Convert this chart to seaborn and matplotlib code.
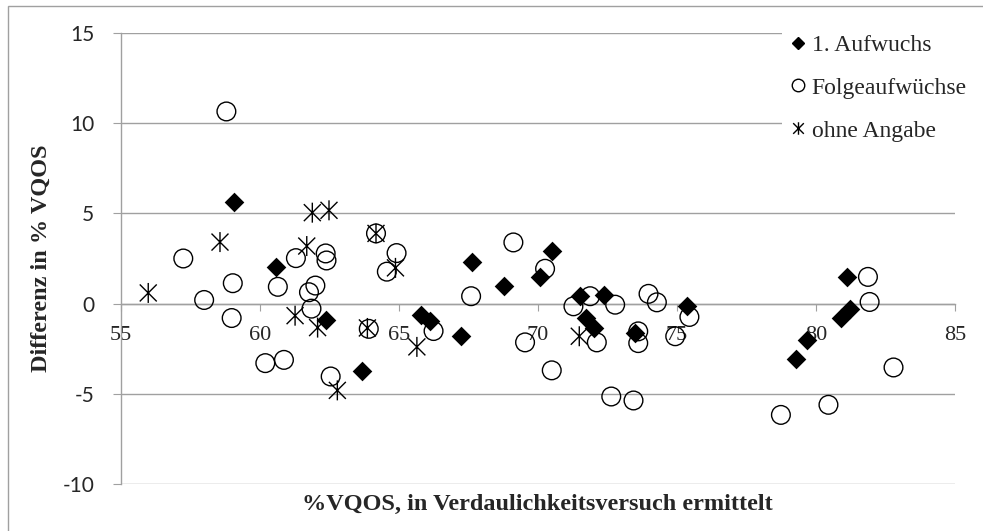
import matplotlib
matplotlib.use("Agg")
import matplotlib.pyplot as plt
from matplotlib.path import Path
from matplotlib.lines import Line2D
from matplotlib.patches import Rectangle
import seaborn as sns


# data

aufwuchs_x = [59.08, 60.6, 62.37, 63.68, 65.79, 66.13, 67.24, 67.63, 68.79, 70.06, 70.5,
              71.53, 71.74, 72.03, 72.38, 73.51, 75.38, 79.29, 79.68, 80.91, 81.23, 81.11]
aufwuchs_y = [5.63, 2.04, -0.93, -3.74, -0.61, -0.98, -1.81, 2.3, 0.96, 1.48, 2.89,
              0.41, -0.78, -1.33, 0.5, -1.63, -0.11, -3.09, -2.04, -0.78, -0.28, 1.5]

folge_x = [57.25, 58.0, 58.8, 59.03, 58.99, 60.2, 60.65, 60.87, 61.3, 61.77, 61.86,
           62.0, 62.37, 62.4, 62.55, 63.92, 64.18, 64.57, 64.92, 66.25, 67.6, 69.12,
           69.54, 70.26, 70.5, 71.28, 71.88, 72.12, 72.64, 72.78, 73.44, 73.61, 73.61,
           73.98, 74.28, 74.94, 75.45, 78.74, 80.45, 81.87, 81.93, 82.79]
folge_y = [2.5, 0.2, 10.65, 1.13, -0.8, -3.3, 0.93, -3.12, 2.52, 0.63, -0.28,
           1.0, 2.78, 2.39, -4.04, -1.4, 3.89, 1.77, 2.8, -1.52, 0.41, 3.39,
           -2.15, 1.93, -3.7, -0.15, 0.41, -2.15, -5.15, -0.06, -5.37, -1.54, -2.19,
           0.54, 0.07, -1.81, -0.74, -6.17, -5.61, 1.48, 0.09, -3.54]

ohne_x = [55.99, 58.57, 61.27, 61.69, 61.89, 62.08, 62.49, 62.79, 63.87, 64.18, 64.88,
          65.65, 71.49]
ohne_y = [0.59, 3.41, -0.67, 3.19, 5.04, -1.33, 5.17, -4.81, -1.35, 3.89, 1.98,
          -2.4, -1.81]

legend_labels = ["1. Aufwuchs", "Folgeaufwüchse", "ohne Angabe"]
x_ticks = [55, 60, 65, 70, 75, 80, 85]
y_ticks = [-10, -5, 0, 5, 10, 15]
y_tick_labels = ["-10", "-5", "0", "5", "10", "15"]
x_title = "%VQOS, in Verdaulichkeitsversuch ermittelt"
y_title = "Differenz in % VQOS"


# ---------------------------------------------------

sns.set_style("white")
plt.rcParams["font.family"] = ["Liberation Serif", "DejaVu Serif"]
plt.rcParams["axes.unicode_minus"] = False

grey = "#a0a0a0"

# excel style asterisk: vertical bar plus an x
star = Path([(0, -1), (0, 1), (-0.85, -0.85), (0.85, 0.85), (-0.85, 0.85), (0.85, -0.85)],
            [Path.MOVETO, Path.LINETO] * 3)

fig = plt.figure(figsize=(9.83, 5.31), dpi=100)
ax = fig.add_axes([0.1228, 0.0885, 0.8487, 0.8494])

sns.scatterplot(x=aufwuchs_x, y=aufwuchs_y, marker="D", s=100, color="black",
                edgecolor="black", linewidth=0, ax=ax, zorder=3)
sns.scatterplot(x=folge_x, y=folge_y, marker="o", s=181, color="black",
                facecolor="none", edgecolor="black", linewidth=1.0, ax=ax, zorder=3)
sns.scatterplot(x=ohne_x, y=ohne_y, marker=star, s=207, color="black",
                facecolor="none", edgecolor="black", linewidth=1.0, ax=ax, zorder=3)

ax.set_xlim(55, 85)
ax.set_ylim(-10, 15)
ax.set_xticks(x_ticks)
ax.set_yticks(y_ticks)
ax.set_yticklabels(y_tick_labels, fontfamily="Lato")

ax.grid(axis="y", color=grey, linewidth=1.0)
ax.grid(axis="x", visible=False)
ax.set_axisbelow(True)

for s in ["top", "right"]:
    ax.spines[s].set_visible(False)
ax.spines["bottom"].set_position(("data", 0))
ax.spines["left"].set_color(grey)
ax.spines["bottom"].set_color(grey)
ax.spines["left"].set_linewidth(1.0)
ax.spines["bottom"].set_linewidth(1.0)

ax.tick_params(axis="x", direction="out", length=5, color=grey, labelsize=16, pad=11,
               bottom=True)
ax.tick_params(axis="y", direction="out", length=6, color=grey, labelsize=15, pad=13,
               left=True)

ax.set_xlabel(x_title, fontsize=17.5, fontweight="bold")
ax.xaxis.set_label_coords(0.5, -0.045)
ax.xaxis.label.set_va("center")
ax.set_ylabel(y_title, fontsize=17.5, fontweight="bold")
ax.yaxis.set_label_coords(-0.095, 0.5)
ax.yaxis.label.set_va("center")

# Legend

handles = [
    Line2D([], [], ls="none", marker="D", ms=6, color="black", mec="black"),
    Line2D([], [], ls="none", marker="o", ms=9, mfc="none", mec="black", mew=1),
    Line2D([], [], ls="none", marker=star, ms=9, color="black", mew=1),
]
ax.legend(handles, legend_labels, loc="upper left",
          bbox_to_anchor=(782 / 983, 1 - 25 / 531), bbox_transform=fig.transFigure,
          frameon=True, fancybox=False, framealpha=1, edgecolor="none",
          facecolor="white", fontsize=17, handlelength=0.55, handletextpad=0.3,
          labelspacing=0.9, borderaxespad=0, borderpad=0.4)

# chart area border (only top and left show in the screenshot)
fig.add_artist(Rectangle((8 / 983, -0.1), 1.2, 1 - 6 / 531 + 0.1,
                         transform=fig.transFigure, fill=False,
                         edgecolor=grey, linewidth=1.0))

fig.savefig("out.png", dpi=100)
